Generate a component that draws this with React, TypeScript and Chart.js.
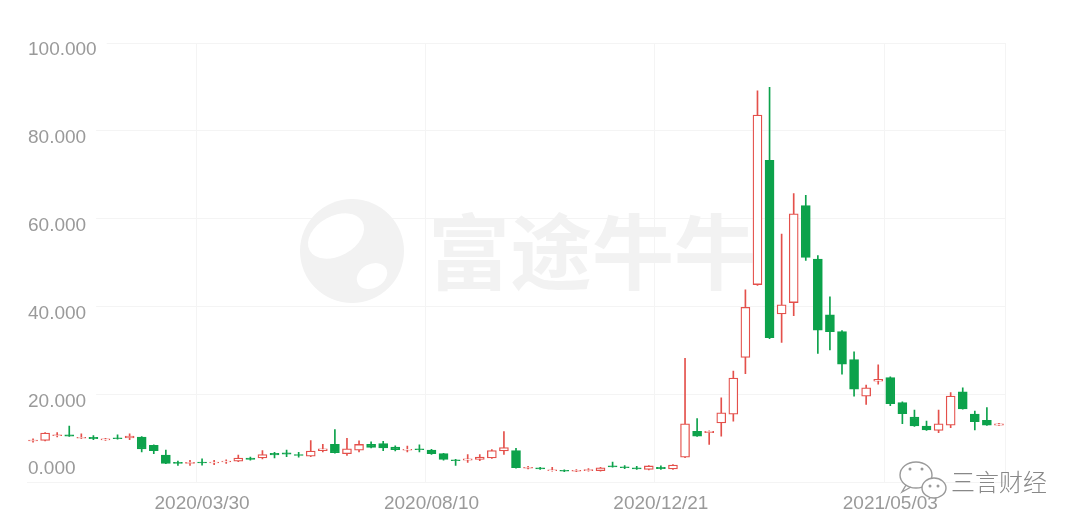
import React, { useEffect, useRef } from 'react';
import { Chart, registerables } from 'chart.js';

Chart.register(...registerables);

const weeks = [
  '2019/12/23', '2019/12/30', '2020/01/06', '2020/01/13', '2020/01/20', '2020/01/27', '2020/02/03', '2020/02/10',
  '2020/02/17', '2020/02/24', '2020/03/02', '2020/03/09', '2020/03/16', '2020/03/23', '2020/03/30', '2020/04/06',
  '2020/04/13', '2020/04/20', '2020/04/27', '2020/05/04', '2020/05/11', '2020/05/18', '2020/05/25', '2020/06/01',
  '2020/06/08', '2020/06/15', '2020/06/22', '2020/06/29', '2020/07/06', '2020/07/13', '2020/07/20', '2020/07/27',
  '2020/08/03', '2020/08/10', '2020/08/17', '2020/08/24', '2020/08/31', '2020/09/07', '2020/09/14', '2020/09/21',
  '2020/09/28', '2020/10/05', '2020/10/12', '2020/10/19', '2020/10/26', '2020/11/02', '2020/11/09', '2020/11/16',
  '2020/11/23', '2020/11/30', '2020/12/07', '2020/12/14', '2020/12/21', '2020/12/28', '2021/01/04', '2021/01/11',
  '2021/01/18', '2021/01/25', '2021/02/01', '2021/02/08', '2021/02/15', '2021/02/22', '2021/03/01', '2021/03/08',
  '2021/03/15', '2021/03/22', '2021/03/29', '2021/04/05', '2021/04/12', '2021/04/19', '2021/04/26', '2021/05/03',
  '2021/05/10', '2021/05/17', '2021/05/24', '2021/05/31', '2021/06/07', '2021/06/14', '2021/06/21', '2021/06/28',
  '2021/07/05',
];

const tickLabels = ['2020/03/30', '2020/08/10', '2020/12/21', '2021/05/03'];

const yTicks = [0, 20, 40, 60, 80, 100];

const openP = [
  9.4, 9.5, 10.6, 10.8, 10.0, 10.2, 9.6, 10.1, 10.1, 10.3, 8.4, 6.2, 4.5, 4.3, 4.6, 4.4,
  4.6, 4.8, 5.5, 5.5, 6.6, 6.7, 6.3, 5.9, 7.2, 8.6, 6.5, 7.3, 8.6, 8.8, 8.0, 7.3,
  7.6, 7.3, 6.5, 5.1, 5.0, 5.2, 5.5, 7.1, 7.2, 3.2, 3.3, 2.6, 2.7, 2.5, 2.6, 2.6,
  3.7, 3.5, 3.3, 2.9, 3.4, 3.0, 5.7, 11.6, 11.3, 13.5, 15.5, 28.4, 45.0, 73.3, 38.3, 40.9,
  63.0, 50.8, 38.1, 34.3, 27.9, 19.6, 23.0, 23.8, 18.1, 14.8, 12.8, 11.8, 13.0, 20.6, 15.5, 14.1,
  13.0,
];
const highP = [
  9.9, 11.3, 11.3, 12.8, 11.0, 10.6, 10.0, 10.8, 11.0, 10.4, 8.5, 7.3, 4.8, 5.0, 5.3, 5.0,
  5.1, 6.2, 5.7, 7.2, 6.8, 7.3, 6.8, 9.5, 8.6, 12.0, 10.0, 9.4, 9.2, 9.3, 8.3, 8.2,
  8.5, 7.5, 6.6, 5.2, 6.3, 6.3, 7.4, 11.5, 7.7, 3.6, 3.4, 3.4, 2.8, 2.9, 3.1, 3.4,
  4.6, 3.8, 3.6, 3.8, 3.7, 4.0, 28.2, 14.5, 11.7, 19.2, 25.3, 43.8, 89.1, 89.9, 56.5, 65.7,
  65.3, 51.6, 42.2, 34.5, 29.7, 22.1, 26.7, 24.0, 18.3, 16.4, 13.9, 16.4, 20.4, 21.5, 16.2, 17.0,
  13.4,
];
const lowP = [
  9.1, 9.4, 10.3, 10.4, 9.9, 9.7, 9.5, 9.8, 9.7, 6.9, 6.5, 4.2, 3.8, 3.8, 3.9, 4.0,
  4.3, 4.7, 5.0, 5.3, 5.5, 5.8, 5.7, 5.8, 6.9, 6.6, 6.1, 6.9, 7.8, 7.2, 7.1, 6.9,
  6.9, 6.3, 5.0, 3.8, 4.5, 4.9, 5.4, 6.3, 3.2, 3.0, 2.9, 2.5, 2.4, 2.4, 2.5, 2.5,
  3.4, 3.1, 2.9, 2.8, 2.9, 2.9, 5.6, 10.4, 8.6, 10.5, 13.9, 24.7, 44.8, 32.7, 31.8, 37.9,
  50.5, 29.3, 30.1, 24.6, 19.6, 17.7, 22.3, 17.4, 13.3, 12.7, 11.8, 11.3, 12.4, 16.6, 11.9, 12.9,
  12.9,
];
const closeP = [
  9.6, 11.2, 10.8, 10.5, 10.2, 9.9, 9.9, 9.9, 10.5, 7.6, 7.2, 4.3, 4.3, 4.5, 4.4, 4.6,
  4.8, 5.5, 5.2, 6.3, 6.2, 6.4, 6.1, 7.1, 7.6, 6.7, 7.6, 8.6, 7.9, 7.8, 7.4, 7.5,
  7.4, 6.5, 5.2, 4.9, 5.3, 5.7, 7.2, 7.9, 3.3, 3.4, 3.0, 2.8, 2.5, 2.7, 2.9, 3.3,
  3.5, 3.3, 3.0, 3.7, 3.1, 3.9, 13.3, 10.5, 11.6, 15.8, 23.7, 39.8, 83.6, 32.9, 40.4, 61.1,
  51.2, 34.6, 34.3, 26.9, 21.2, 21.5, 23.4, 17.9, 15.6, 12.8, 11.9, 13.3, 19.6, 16.7, 13.8, 13.0,
  13.3,
];

const RED = '#e4504b';
const GREEN = '#0ca24b';
const LABEL = '#9a9a9a';
const GRID = '#f4f4f4';
const FONT = '"Liberation Sans", Arial, sans-serif';

export default function App() {
  const ref = useRef<HTMLCanvasElement>(null);

  useEffect(() => {
    if (!ref.current) return;
    const up = openP.map((o, i) => closeP[i] >= o);
    const wick = lowP.map((l, i) => [l, highP[i]]);
    const body = openP.map((o, i) => [Math.min(o, closeP[i]), Math.max(o, closeP[i])]);

    const decor = {
      id: 'decor',
      beforeDatasetsDraw(chart: any) {
        const ctx = chart.ctx as CanvasRenderingContext2D;
        const ys = chart.scales.y;
        const area = chart.chartArea;
        ctx.save();
        // Futu watermark logo
        ctx.fillStyle = '#f2f2f2';
        ctx.beginPath();
        ctx.arc(352, 251, 52, 0, Math.PI * 2);
        ctx.fill();
        ctx.fillStyle = '#ffffff';
        ctx.beginPath();
        ctx.ellipse(336, 236, 30, 20, -0.5, 0, Math.PI * 2);
        ctx.fill();
        ctx.beginPath();
        ctx.ellipse(372, 276, 16, 12, -0.5, 0, Math.PI * 2);
        ctx.fill();
        // Futu watermark text
        ctx.fillStyle = '#f2f2f2';
        ctx.font = 'bold 82px "Noto Sans CJK SC"';
        ctx.textBaseline = 'middle';
        ctx.textAlign = 'left';
        ctx.fillText('富途牛牛', 428, 252);
        // y labels
        ctx.font = `19px ${FONT}`;
        yTicks.forEach((v) => {
          const py = ys.getPixelForValue(v);
          const text = v.toFixed(3);
          let cy = py + 7;
          if (cy + 10 > area.bottom) cy = py - 13;
          const w = ctx.measureText(text).width;
          if (cy > py) {
            ctx.fillStyle = '#ffffff';
            ctx.fillRect(area.left, py - 2, 28 + w + 10 - area.left, 4);
          }
          ctx.fillStyle = LABEL;
          ctx.fillText(text, 28, cy);
        });
        ctx.restore();
      },
      afterDraw(chart: any) {
        const ctx = chart.ctx as CanvasRenderingContext2D;
        ctx.save();
        // WeChat mark
        ctx.strokeStyle = '#9a9a9a';
        ctx.lineWidth = 1.4;
        ctx.beginPath();
        ctx.ellipse(916, 475, 16, 13, 0, 0, Math.PI * 2);
        ctx.fillStyle = '#ffffff';
        ctx.fill();
        ctx.stroke();
        ctx.beginPath();
        ctx.moveTo(906, 485);
        ctx.lineTo(902, 492);
        ctx.lineTo(911, 487);
        ctx.stroke();
        ctx.beginPath();
        ctx.ellipse(934, 488, 12, 10, 0, 0, Math.PI * 2);
        ctx.fillStyle = '#ffffff';
        ctx.fill();
        ctx.stroke();
        ctx.fillStyle = '#9a9a9a';
        [[910, 469], [922, 469], [930, 486], [938, 486]].forEach(([x, y]) => {
          ctx.beginPath();
          ctx.arc(x, y, 1.5, 0, Math.PI * 2);
          ctx.fill();
        });
        ctx.fillStyle = '#888888';
        ctx.font = '300 24px "Noto Sans CJK SC"';
        ctx.textBaseline = 'middle';
        ctx.fillText('三言财经', 951, 482);
        ctx.restore();
      },
    };

    const chart = new Chart(ref.current, {
      type: 'bar',
      data: {
        labels: weeks,
        datasets: [
          {
            data: wick as any,
            backgroundColor: up.map((u) => (u ? RED : GREEN)),
            barThickness: 1,
            grouped: false,
            order: 2,
          } as any,
          {
            data: body as any,
            backgroundColor: up.map((u) => (u ? '#ffffff' : GREEN)),
            borderColor: up.map((u) => (u ? RED : GREEN)),
            borderWidth: 1.3,
            borderSkipped: false,
            barThickness: 9,
            grouped: false,
            order: 1,
          } as any,
        ],
      },
      options: {
        animation: false,
        responsive: false,
        maintainAspectRatio: false,
        devicePixelRatio: 1,
        layout: { padding: { left: 27, right: 75, top: 43, bottom: 3 } },
        plugins: { legend: { display: false }, tooltip: { enabled: false } },
        scales: {
          x: {
            type: 'category',
            offset: true,
            border: { display: false },
            grid: {
              offset: true,
              drawTicks: false,
              color: (ctx: any) => {
                if (ctx.type !== 'tick') return GRID;
                return tickLabels.includes(weeks[ctx.index]) ? GRID : 'rgba(0,0,0,0)';
              },
            },
            ticks: {
              autoSkip: false,
              maxRotation: 0,
              minRotation: 0,
              padding: 10,
              color: LABEL,
              font: { size: 19, family: FONT },
              callback: (_v: any, i: number) => (tickLabels.includes(weeks[i]) ? weeks[i] : ''),
            },
          },
          y: {
            min: 0,
            max: 100,
            border: { display: false },
            grid: { color: GRID, drawTicks: false },
            ticks: { display: false, stepSize: 20 },
          },
        },
      },
      plugins: [decor],
    });
    return () => chart.destroy();
  }, []);

  return (
    <div style={{ position: 'absolute', left: 0, top: 0, width: 1080, height: 528, background: '#ffffff' }}>
      <canvas ref={ref} width={1080} height={528} />
    </div>
  );
}
